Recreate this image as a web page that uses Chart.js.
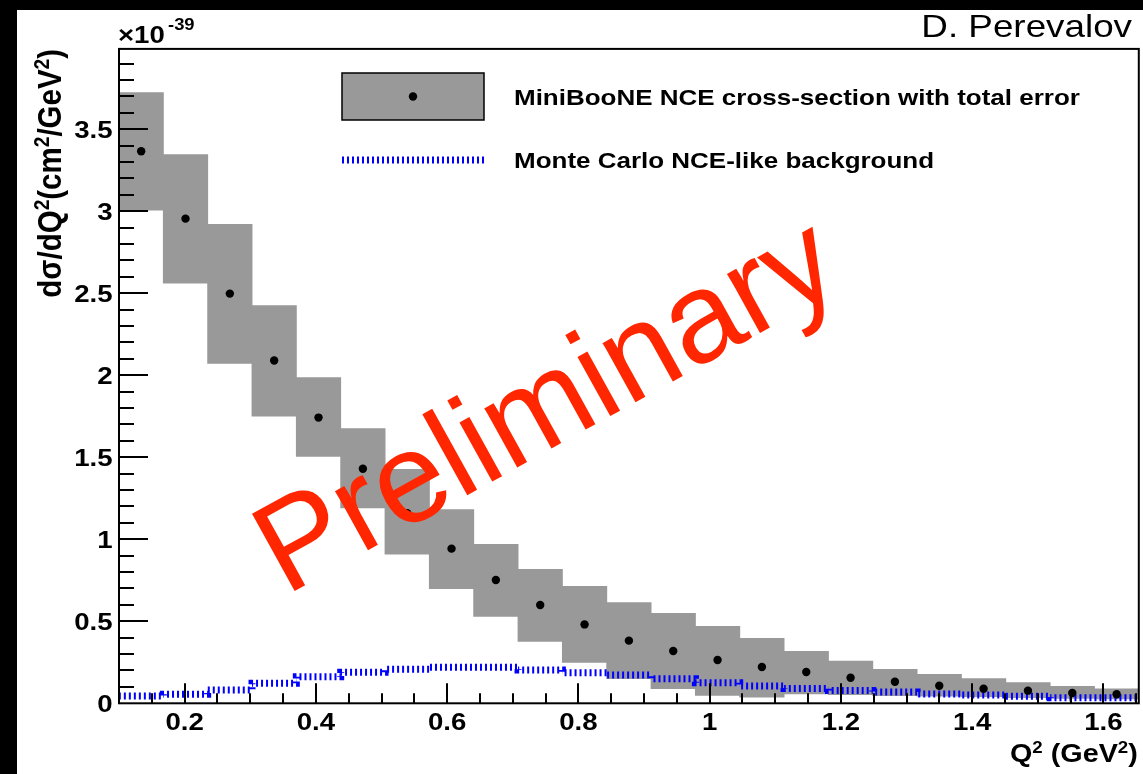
<!DOCTYPE html>
<html lang="en">
<head>
<meta charset="UTF-8">
<title>MiniBooNE NCE cross-section</title>
<script src="https://cdn.jsdelivr.net/npm/chart.js"></script>
<style>
  html, body { margin: 0; padding: 0; background: #000; }
  body { width: 1143px; height: 774px; overflow: hidden; position: relative; }
  #wrap { position: absolute; left: 17px; top: 10px; width: 1126px; height: 764px; background: #fff; }
</style>
</head>
<body>
<div id="wrap"><canvas id="myChart" width="1126" height="764"></canvas></div>
<script>
// Q2 bin edges (GeV^2), 23 bins
const binEdges = [0.1000, 0.1676, 0.2351, 0.3027, 0.3702, 0.4378, 0.5054, 0.5729,
                  0.6405, 0.7080, 0.7756, 0.8432, 0.9107, 0.9783, 1.0458, 1.1134,
                  1.1810, 1.2485, 1.3161, 1.3836, 1.4512, 1.5188, 1.5863, 1.6539];

// cross-section, in units of 1e-39 cm^2/GeV^2
const xsec = [3.366, 2.955, 2.498, 2.090, 1.742, 1.430, 1.159, 0.943, 0.752, 0.599, 0.481, 0.382,
              0.319, 0.264, 0.221, 0.191, 0.156, 0.131, 0.107, 0.089, 0.077, 0.063, 0.055];
// total error band (low / high edge)
const xsecLow = [3.004, 2.559, 2.070, 1.748, 1.504, 1.189, 0.908, 0.697, 0.528, 0.376, 0.248, 0.148,
                 0.087, 0.046, 0.036, 0.055, 0.050, 0.045, 0.042, 0.038, 0.033, 0.028, 0.025];
const xsecHigh = [3.726, 3.348, 2.923, 2.427, 1.988, 1.677, 1.429, 1.183, 0.971, 0.819, 0.715, 0.616,
                  0.551, 0.471, 0.398, 0.319, 0.260, 0.209, 0.179, 0.152, 0.128, 0.105, 0.091];
// MC NCE-like background
const background = [0.045, 0.044, 0.055, 0.081, 0.122, 0.162, 0.189, 0.207, 0.220, 0.220, 0.203, 0.187,
                    0.172, 0.150, 0.126, 0.105, 0.091, 0.078, 0.069, 0.057, 0.051, 0.043, 0.034];

const xTicks = [0.2, 0.4, 0.6, 0.8, 1, 1.2, 1.4, 1.6];
const yTicks = [0, 0.5, 1, 1.5, 2, 2.5, 3, 3.5];
const legendLabels = ['MiniBooNE NCE cross-section with total error', 'Monte Carlo NCE-like background'];

const SX = 1.15;   // the original plot is stretched horizontally
const FONT = '"Liberation Sans", Arial, Helvetica, sans-serif';
const GRAY = '#999999';
const BLUE = '#0000ff';

const centers = binEdges.slice(0, -1).map((e, i) => (e + binEdges[i + 1]) / 2);
const boxData = centers.map((c, i) => ({x: c, y: [xsecLow[i], xsecHigh[i]]}));
const pointData = centers.map((c, i) => ({x: c, y: xsec[i]}));
const bgData = binEdges.map((e, i) => ({x: e, y: background[Math.min(i, background.length - 1)]}));

// text with superscripts, drawn at the current origin
function drawRich(ctx, parts, size, weight, align) {
    let w = 0;
    parts.forEach(([t, sup]) => {
        ctx.font = weight + ' ' + (sup ? size * 0.65 : size) + 'px ' + FONT;
        w += ctx.measureText(t).width;
    });
    let x = align === 'right' ? -w : (align === 'center' ? -w / 2 : 0);
    ctx.textAlign = 'left';
    ctx.textBaseline = 'alphabetic';
    parts.forEach(([t, sup]) => {
        ctx.font = weight + ' ' + (sup ? size * 0.65 : size) + 'px ' + FONT;
        ctx.fillText(t, x, sup ? -size * 0.33 : 0);
        x += ctx.measureText(t).width;
    });
}

function text(ctx, str, x, y, size, weight, align, rot) {
    ctx.save();
    ctx.translate(x, y);
    ctx.scale(SX, 1);
    if (rot) ctx.rotate(rot);
    drawRich(ctx, typeof str === 'string' ? [[str, false]] : str, size, weight, align);
    ctx.restore();
}

const rootFrame = {
    id: 'rootFrame',
    afterDatasetsDraw(chart) {
        const {ctx, chartArea: a, scales: {x, y}} = chart;
        ctx.save();
        ctx.fillStyle = '#000';
        ctx.strokeStyle = '#000';
        ctx.lineWidth = 2;
        ctx.strokeRect(a.left, a.top, a.right - a.left, a.bottom - a.top);

        // ticks drawn inside the frame
        ctx.beginPath();
        for (let k = 1; k / 10 < y.max; k++) {
            const py = Math.round(y.getPixelForValue(k / 10));
            const len = k % 5 === 0 ? 29 : 15;
            ctx.moveTo(a.left, py);
            ctx.lineTo(a.left + len, py);
        }
        for (let k = 1; k * 0.05 < x.max; k++) {
            const v = k * 0.05;
            if (v <= x.min + 1e-9) continue;
            const px = Math.round(x.getPixelForValue(v));
            const len = k % 4 === 0 ? 20 : 10;
            ctx.moveTo(px, a.bottom);
            ctx.lineTo(px, a.bottom - len);
        }
        ctx.stroke();

        // tick labels
        yTicks.forEach(v => text(ctx, String(v), a.left - 6.5, y.getPixelForValue(v) + 8.6, 24, 'bold', 'right'));
        xTicks.forEach(v => text(ctx, String(v), x.getPixelForValue(v), 720, 24, 'bold', 'center'));

        // axis titles
        text(ctx, [['Q', false], ['2', true], [' (GeV', false], ['2', true], [')', false]],
             a.right - 1, 751.5, 25, 'bold', 'right');
        text(ctx, [['d\u03c3/dQ', false], ['2', true], ['(cm', false], ['2', true], ['/GeV', false], ['2', true], [')', false]],
             43.5, a.top, 29.5, 'bold', 'right', -Math.PI / 2);

        // exponent
        text(ctx, '\u00d710', a.left - 1, 33.3, 24, 'bold', 'left');
        text(ctx, '-39', a.left + 49, 20, 16, 'bold', 'left');

        // author
        text(ctx, 'D. Perevalov', 1115, 26.7, 32, 'normal', 'right');

        // legend
        ctx.fillStyle = GRAY;
        ctx.fillRect(325, 63, 142, 47);
        ctx.lineWidth = 1.5;
        ctx.strokeRect(325, 63, 142, 47);
        ctx.fillStyle = '#000';
        ctx.beginPath();
        ctx.arc(396, 86.5, 4.2, 0, Math.PI * 2);
        ctx.fill();
        ctx.strokeStyle = BLUE;
        ctx.lineWidth = 7;
        ctx.setLineDash([2, 3]);
        ctx.beginPath();
        ctx.moveTo(325, 150);
        ctx.lineTo(467, 150);
        ctx.stroke();
        ctx.setLineDash([]);
        ctx.fillStyle = '#000';
        text(ctx, legendLabels[0], 497, 95.2, 22.6, 'bold', 'left');
        text(ctx, legendLabels[1], 497, 158.2, 22.6, 'bold', 'left');
        ctx.restore();
    },
    afterDraw(chart) {
        const ctx = chart.ctx;
        ctx.save();
        ctx.translate(268.6, 586);
        ctx.rotate(-29 * Math.PI / 180);
        ctx.font = '128px ' + FONT;
        ctx.fillStyle = 'rgb(255,38,0)';
        ctx.textAlign = 'left';
        ctx.textBaseline = 'alphabetic';
        ctx.fillText('Preliminary', 0, 0);
        ctx.restore();
    }
};

const ctx = document.getElementById('myChart').getContext('2d');
new Chart(ctx, {
    type: 'bar',
    data: {
        datasets: [
            {
                type: 'scatter',
                label: 'MiniBooNE NCE cross-section',
                data: pointData,
                pointRadius: 4.2,
                pointBorderWidth: 0,
                pointBackgroundColor: '#000',
                order: 0
            },
            {
                type: 'line',
                label: 'Monte Carlo NCE-like background',
                data: bgData,
                stepped: 'after',
                borderColor: BLUE,
                borderWidth: 7,
                borderDash: [2, 3],
                borderCapStyle: 'butt',
                pointRadius: 0,
                fill: false,
                order: 1
            },
            {
                type: 'bar',
                label: 'total error',
                data: boxData,
                backgroundColor: GRAY,
                borderWidth: 0,
                barPercentage: 1.02,
                categoryPercentage: 1,
                order: 2
            }
        ]
    },
    plugins: [rootFrame],
    options: {
        responsive: false,
        animation: false,
        layout: { padding: { left: 102, top: 38.9, right: 2, bottom: 70.7 } },
        plugins: { legend: { display: false }, tooltip: { enabled: false } },
        scales: {
            x: { type: 'linear', min: 0.1, max: 1.6539, offset: false, display: false },
            y: { type: 'linear', min: 0, max: 3.99, display: false }
        }
    }
});
</script>
</body>
</html>
